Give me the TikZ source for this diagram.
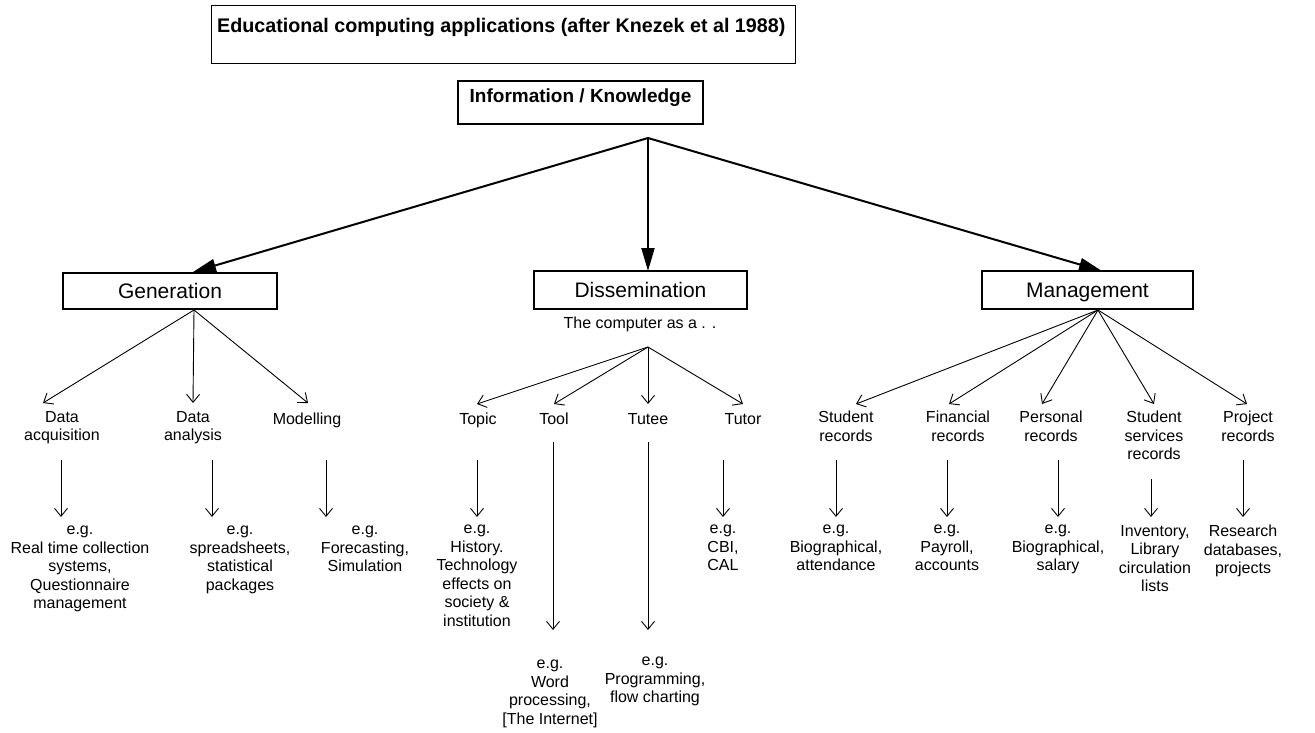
\documentclass[tikz,border=0pt]{standalone}
\usepackage{fontspec}
\setmainfont{Liberation Sans}
\usetikzlibrary{arrows.meta}
\begin{document}
\begin{tikzpicture}[x=1pt,y=-1pt,
  txt/.style={font=\fontsize{16}{18.5}\selectfont, align=center, anchor=north, yshift=12.95pt, inner sep=0pt,
              execute at begin node={\strut}},
  catbox/.style={draw, line width=1.8pt, font=\fontsize{21}{24}\selectfont, text height=15pt, text depth=0pt, inner sep=0pt},
  thin/.style={line width=0.9pt, -{Straight Barb[length=8pt,width=13pt,line width=0.9pt]}},
  thick/.style={line width=2pt, -{Triangle[length=23pt,width=13pt]}}]
\useasboundingbox (0,0) rectangle (1315,732);
% title
\node[draw, line width=1pt, anchor=north west, inner sep=0pt, minimum width=584pt, minimum height=58pt] (titlebox) at (211,5) {};
\node[anchor=base west, inner sep=0pt, font=\fontsize{19.7}{24}\selectfont\bfseries] (title) at (217,32)
      {Educational computing applications (after Knezek et al 1988)};
% root
\node[draw, line width=1.8pt, anchor=base, inner sep=0pt, minimum width=245pt, text height=21pt, text depth=22pt,
      font=\fontsize{19}{22}\selectfont\bfseries] (info) at (580.5,102) {Information / Knowledge};
\coordinate (root) at (648,138);
% categories
\node[catbox, minimum width=214pt, minimum height=36pt] (gen) at (170,291) {Generation};
\node[catbox, minimum width=213pt, minimum height=38pt] (diss) at (640.5,290) {Dissemination};
\node[catbox, minimum width=211pt, minimum height=38pt] (mgmt) at (1087.5,290) {Management};
\coordinate (genin) at (193,272);
\coordinate (dissin) at (648,271);
\coordinate (mgmtin) at (1102,271);
\draw[thick] (root) -- (genin);
\draw[thick] (root) -- (dissin);
\draw[thick] (root) -- (mgmtin);
% Generation branch
\coordinate (genout) at (194,310);
\node[txt] (daq) at (62,424) {Data\\acquisition};
\node[txt] (dan) at (193,424) {Data\\analysis};
\node[txt] (mod) at (307,424) {Modelling};
\coordinate (daqin) at (43,403);
\coordinate (danin) at (193,403);
\coordinate (modin) at (308,403);
\draw[thin] (genout) -- (daqin);
\draw[thin] (genout) -- (danin);
\draw[thin] (genout) -- (modin);
\coordinate (daqa) at (61,460); \coordinate (daqb) at (61,517);
\coordinate (dana) at (212,460); \coordinate (danb) at (212,517);
\coordinate (moda) at (326,460); \coordinate (modb) at (326,517);
\draw[thin] (daqa) -- (daqb);
\draw[thin] (dana) -- (danb);
\draw[thin] (moda) -- (modb);
\node[txt] (daqex) at (80,539) {e.g.\\Real time collection\\systems,\\Questionnaire\\management};
\node[txt] (danex) at (240,539) {e.g.\\spreadsheets,\\statistical\\packages};
\node[txt] (modex) at (365,539) {e.g.\\Forecasting,\\Simulation};
% Dissemination branch
\node[txt] (comp) at (640,328) {The computer as a . .};
\coordinate (dissout) at (648,347);
\node[txt] (topic) at (478,424) {Topic};
\node[txt] (tool) at (554,424) {Tool};
\node[txt] (tutee) at (648,424) {Tutee};
\node[txt] (tutor) at (743,424) {Tutor};
\coordinate (topicin) at (477,404);
\coordinate (toolin) at (554,404);
\coordinate (tuteein) at (648,404);
\coordinate (tutorin) at (743,404);
\draw[thin] (dissout) -- (topicin);
\draw[thin] (dissout) -- (toolin);
\draw[thin] (dissout) -- (tuteein);
\draw[thin] (dissout) -- (tutorin);
\coordinate (topica) at (477,460); \coordinate (topicb) at (477,517);
\coordinate (toola) at (553,442); \coordinate (toolb) at (553,630);
\coordinate (tuteea) at (648,442); \coordinate (tuteeb) at (648,630);
\coordinate (tutora) at (723,460); \coordinate (tutorb) at (723,517);
\draw[thin] (topica) -- (topicb);
\draw[thin] (toola) -- (toolb);
\draw[thin] (tuteea) -- (tuteeb);
\draw[thin] (tutora) -- (tutorb);
\node[txt] (topicex) at (477,538) {e.g.\\History.\\Technology\\effects on\\society \&\\institution};
\node[txt] (toolex) at (550,673) {e.g.\\Word\\processing,\\{}[The Internet]};
\node[txt] (tuteeex) at (655,670) {e.g.\\Programming,\\flow charting};
\node[txt] (tutorex) at (723,538) {e.g.\\CBI,\\CAL};
% Management branch
\coordinate (mgmtout) at (1098,310);
\node[txt] (srec) at (846,424) {Student\\records};
\node[txt] (frec) at (958,424) {Financial\\records};
\node[txt] (prec) at (1051,424) {Personal\\records};
\node[txt] (ssrec) at (1154,424) {Student\\services\\records};
\node[txt] (pjrec) at (1248,424) {Project\\records};
\coordinate (srecin) at (856,404);
\coordinate (frecin) at (949,404);
\coordinate (precin) at (1042,404);
\coordinate (ssrecin) at (1154,404);
\coordinate (pjrecin) at (1247,404);
\draw[thin] (mgmtout) -- (srecin);
\draw[thin] (mgmtout) -- (frecin);
\draw[thin] (mgmtout) -- (precin);
\draw[thin] (mgmtout) -- (ssrecin);
\draw[thin] (mgmtout) -- (pjrecin);
\coordinate (sreca) at (836,460); \coordinate (srecb) at (836,517);
\coordinate (freca) at (947,460); \coordinate (frecb) at (947,517);
\coordinate (preca) at (1058,460); \coordinate (precb) at (1058,517);
\coordinate (ssreca) at (1151,479); \coordinate (ssrecb) at (1151,517);
\coordinate (pjreca) at (1243,460); \coordinate (pjrecb) at (1243,517);
\draw[thin] (sreca) -- (srecb);
\draw[thin] (freca) -- (frecb);
\draw[thin] (preca) -- (precb);
\draw[thin] (ssreca) -- (ssrecb);
\draw[thin] (pjreca) -- (pjrecb);
\node[txt] (srecex) at (836,538) {e.g.\\Biographical,\\attendance};
\node[txt] (frecex) at (947,538) {e.g.\\Payroll,\\accounts};
\node[txt] (precex) at (1058,538) {e.g.\\Biographical,\\salary};
\node[txt] (ssrecex) at (1155,538) {Inventory,\\Library\\circulation\\lists};
\node[txt] (pjrecex) at (1243,538) {Research\\databases,\\projects};
\end{tikzpicture}
\end{document}
